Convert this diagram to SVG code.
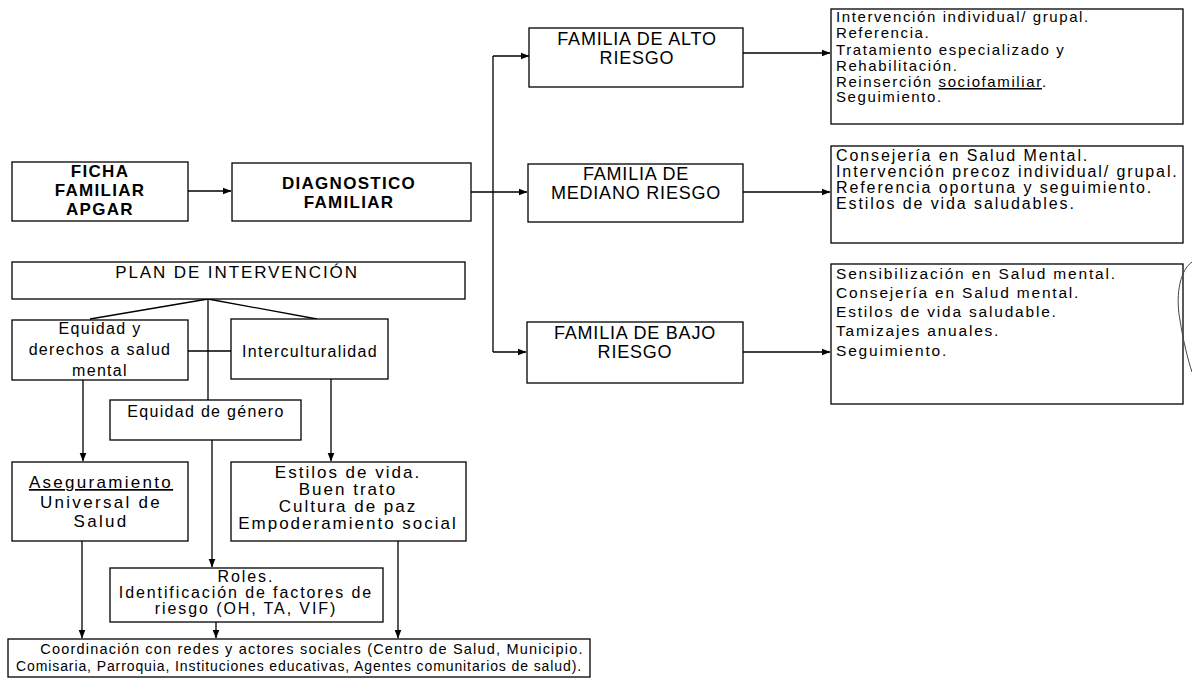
<svg xmlns="http://www.w3.org/2000/svg" width="1192" height="680" viewBox="0 0 1192 680">
<defs>
<marker id="arr" markerWidth="9" markerHeight="8" refX="8.5" refY="4" orient="auto" markerUnits="userSpaceOnUse">
<path d="M0,0.5 L9,4 L0,7.5 z" fill="#000"/>
</marker>
<style>
.box{fill:#fff;stroke:#000;stroke-width:1.3}
.ln{fill:none;stroke:#000;stroke-width:1.3}
.ar{fill:none;stroke:#000;stroke-width:1.3;marker-end:url(#arr)}
text{font-family:"Liberation Sans",Arial,sans-serif;fill:#000}
.hb{font-size:17px;font-weight:bold;letter-spacing:1.3px;text-anchor:middle}
.fam{font-size:18px;letter-spacing:0.8px;text-anchor:middle}
.pl{font-size:17px;letter-spacing:1.9px;text-anchor:middle}
.ra{font-size:15px;letter-spacing:1.6px}
.rb{font-size:16px;letter-spacing:1.9px}
.rc{font-size:15.5px;letter-spacing:1.8px}
.lt{font-size:16px;letter-spacing:1.3px;text-anchor:middle}
.as{font-size:17px;letter-spacing:2.3px;text-anchor:middle}
.es{font-size:17px;letter-spacing:2px;text-anchor:middle}
.ro{font-size:16px;letter-spacing:1.9px;text-anchor:middle}
.b1{font-size:14.5px;letter-spacing:1.2px;text-anchor:middle}
.b2{font-size:14px;letter-spacing:0.9px;text-anchor:middle}
.ul{text-decoration:underline}
</style>
</defs>
<rect width="1192" height="680" fill="#fff"/>

<g id="connectors">
<path class="ar" d="M188,191 H231"/>
<path class="ln" d="M471,192 H493 M493,56 V352"/>
<path class="ar" d="M493,56 H529"/>
<path class="ar" d="M493,192 H527"/>
<path class="ar" d="M493,352 H526"/>
<path class="ar" d="M743,53 H830"/>
<path class="ar" d="M743,192 H830"/>
<path class="ar" d="M743,352 H830"/>
<path class="ln" d="M208,299 L90,319 M208,299 L317,319 M208,299 V400 M188,351 H231"/>
<path class="ar" d="M83,380 V461"/>
<path class="ar" d="M331,379 V461"/>
<path class="ar" d="M212,440 V567"/>
<path class="ar" d="M82,541 V638"/>
<path class="ar" d="M216,622 V638"/>
<path class="ar" d="M398,541 V638"/>
</g>

<g id="ficha">
<rect class="box" x="12" y="162" width="176" height="59"/>
<text class="hb" x="100" y="177">FICHA</text>
<text class="hb" x="100" y="196">FAMILIAR</text>
<text class="hb" x="100" y="215">APGAR</text>
</g>

<g id="diagnostico">
<rect class="box" x="232" y="163" width="239" height="58"/>
<text class="hb" x="349" y="189">DIAGNOSTICO</text>
<text class="hb" x="349" y="208">FAMILIAR</text>
</g>

<g id="alto">
<rect class="box" x="529" y="28" width="214" height="59"/>
<text class="fam" x="637" y="45">FAMILIA DE ALTO</text>
<text class="fam" x="637" y="64">RIESGO</text>
</g>

<g id="mediano">
<rect class="box" x="528" y="164" width="215" height="58"/>
<text class="fam" x="636" y="180">FAMILIA DE</text>
<text class="fam" x="636" y="199">MEDIANO RIESGO</text>
</g>

<g id="bajo">
<rect class="box" x="527" y="322" width="216" height="61"/>
<text class="fam" x="635" y="339">FAMILIA DE BAJO</text>
<text class="fam" x="635" y="358">RIESGO</text>
</g>

<g id="alto-acciones">
<rect class="box" x="831" y="9" width="352" height="115"/>
<text class="ra" x="836" y="22">Intervención individual/ grupal.</text>
<text class="ra" x="836" y="38">Referencia.</text>
<text class="ra" x="836" y="55">Tratamiento especializado y</text>
<text class="ra" x="836" y="71">Rehabilitación.</text>
<text class="ra" x="836" y="87">Reinserción <tspan class="ul">sociofamiliar</tspan>.</text>
<text class="ra" x="836" y="102">Seguimiento.</text>
</g>

<g id="mediano-acciones">
<rect class="box" x="831" y="146" width="352" height="97"/>
<text class="rb" x="836" y="161">Consejería en Salud Mental.</text>
<text class="rb" x="836" y="177">Intervención precoz individual/ grupal.</text>
<text class="rb" x="836" y="193">Referencia oportuna y seguimiento.</text>
<text class="rb" x="836" y="209">Estilos de vida saludables.</text>
</g>

<g id="bajo-acciones">
<rect class="box" x="831" y="264" width="352" height="140"/>
<text class="rc" x="836" y="279">Sensibilización en Salud mental.</text>
<text class="rc" x="836" y="298">Consejería en Salud mental.</text>
<text class="rc" x="836" y="317">Estilos de vida saludable.</text>
<text class="rc" x="836" y="336">Tamizajes anuales.</text>
<text class="rc" x="836" y="356">Seguimiento.</text>
</g>

<g id="plan">
<rect class="box" x="12" y="262" width="453" height="37"/>
<text class="pl" x="237" y="278">PLAN DE INTERVENCIÓN</text>
</g>

<g id="equidad-derechos">
<rect class="box" x="12" y="320" width="176" height="60"/>
<text class="lt" x="100" y="334">Equidad y</text>
<text class="lt" x="100" y="355">derechos a salud</text>
<text class="lt" x="100" y="376">mental</text>
</g>

<g id="interculturalidad">
<rect class="box" x="231" y="319" width="157" height="60"/>
<text class="lt" x="310" y="357">Interculturalidad</text>
</g>

<g id="equidad-genero">
<rect class="box" x="110" y="400" width="191" height="40"/>
<text class="lt" x="206" y="417">Equidad de género</text>
</g>

<g id="aseguramiento">
<rect class="box" x="12" y="462" width="176" height="79"/>
<text class="as" x="101" y="488"><tspan class="ul">Aseguramiento</tspan></text>
<text class="as" x="101" y="508">Universal de</text>
<text class="as" x="101" y="527">Salud</text>
</g>

<g id="estilos">
<rect class="box" x="231" y="462" width="235" height="79"/>
<text class="es" x="348" y="478">Estilos de vida.</text>
<text class="es" x="348" y="495">Buen trato</text>
<text class="es" x="348" y="512">Cultura de paz</text>
<text class="es" x="348" y="529">Empoderamiento social</text>
</g>

<g id="roles">
<rect class="box" x="110" y="568" width="273" height="54"/>
<text class="ro" x="246" y="582">Roles.</text>
<text class="ro" x="246" y="598">Identificación de factores de</text>
<text class="ro" x="246" y="614">riesgo (OH, TA, VIF)</text>
</g>

<g id="coordinacion">
<rect class="box" x="8" y="639" width="582" height="38"/>
<text class="b1" x="312" y="654">Coordinación con redes y actores sociales (Centro de Salud, Municipio.</text>
<text class="b2" x="299" y="671">Comisaria, Parroquia, Instituciones educativas, Agentes comunitarios de salud).</text>
</g>

<path d="M1192,262 C1178,272 1176,300 1180,320 C1183,340 1188,360 1192,372" fill="none" stroke="#444" stroke-width="1"/>
</svg>
